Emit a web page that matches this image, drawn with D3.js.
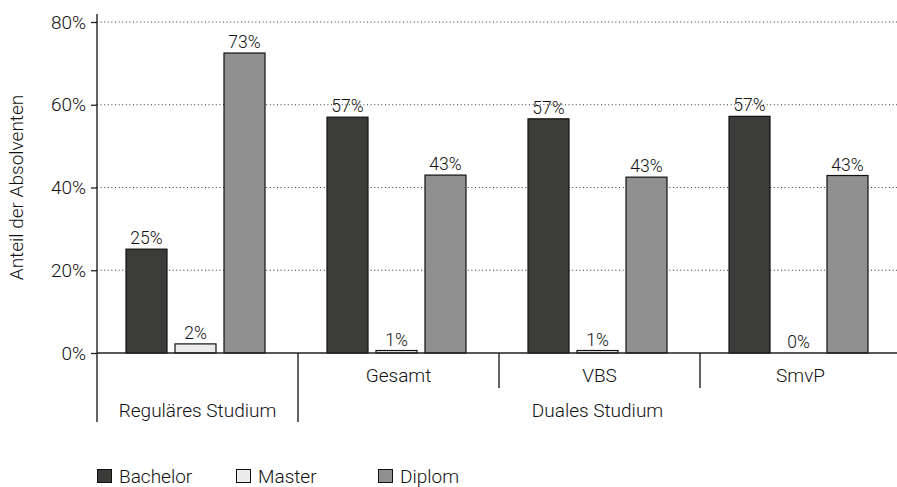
<!DOCTYPE html>
<html>
<head>
<meta charset="utf-8">
<script src="https://cdn.jsdelivr.net/npm/d3@7"></script>
<style>
  html, body { margin: 0; padding: 0; background: #fff; }
  svg { display: block; font-family: Roboto, "Liberation Sans", sans-serif; font-weight: 300; }
</style>
</head>
<body>
<svg id="chart" width="897" height="487"></svg>
<script>
// Shares of graduates by degree type and study form
const groups = ["Reguläres Studium", "Gesamt", "VBS", "SmvP"];
const series = ["Bachelor", "Master", "Diplom"];
const bachelor = [25.1, 57.0, 56.6, 57.2];
const master   = [2.2, 0.6, 0.6, 0.0];
const diplom   = [72.5, 43.0, 42.5, 42.9];
const valueLabels = [
  ["25%", "2%", "73%"],
  ["57%", "1%", "43%"],
  ["57%", "1%", "43%"],
  ["57%", "0%", "43%"]
];
const yTicks = [0, 20, 40, 60, 80];
const colors = { Bachelor: "#3b3b3a", Master: "#ececec", Diplom: "#8f908f" };
const upperGroupLabels = [
  { text: "Reguläres Studium", from: 0, to: 1 },
  { text: "Duales Studium", from: 1, to: 4 }
];

const seriesValues = { Bachelor: bachelor, Master: master, Diplom: diplom };

const svg = d3.select("#chart");
const plotLeft = 97, plotRight = 901, plotTop = 22, zeroY = 353, viewRight = 897;
const textSize = 19;

const y = d3.scaleLinear().domain([0, 80]).range([zeroY, plotTop]);
const x = d3.scaleBand().domain(groups).range([plotLeft, plotRight]).paddingInner(0).paddingOuter(0);
const barsSpan = 139;
const xInner = d3.scaleBand().domain(series)
  .range([(x.bandwidth() - barsSpan) / 2 - 2, (x.bandwidth() + barsSpan) / 2 - 2])
  .paddingInner(8 / 49).paddingOuter(0);

// dotted gridlines
svg.append("g")
  .selectAll("line")
  .data(yTicks.filter(t => t > 0))
  .join("line")
  .attr("x1", plotLeft).attr("x2", viewRight)
  .attr("y1", d => y(d)).attr("y2", d => y(d))
  .attr("stroke", "#333").attr("stroke-width", 1)
  .attr("stroke-dasharray", "1,2.6");

// y axis
const yAxis = svg.append("g")
  .attr("transform", `translate(${plotLeft},0)`)
  .call(d3.axisLeft(y).tickValues(yTicks).tickFormat(d => d + "%").tickSize(6).tickPadding(5));
yAxis.select(".domain").remove();
yAxis.selectAll(".tick line").attr("stroke", "#222").attr("stroke-width", 1.3);
yAxis.selectAll(".tick text")
  .attr("font-size", textSize).attr("font-family", "Roboto, sans-serif").attr("font-weight", 300)
  .attr("fill", "#111");

// bars
const barData = [];
groups.forEach((g, gi) => series.forEach((s, si) => {
  barData.push({ group: g, series: s, value: seriesValues[s][gi], label: valueLabels[gi][si] });
}));

const bars = svg.append("g");
bars.selectAll("rect")
  .data(barData.filter(d => d.value > 0))
  .join("rect")
  .attr("x", d => x(d.group) + xInner(d.series))
  .attr("width", xInner.bandwidth())
  .attr("y", d => y(d.value))
  .attr("height", d => y(0) - y(d.value))
  .attr("fill", d => colors[d.series])
  .attr("stroke", "#111").attr("stroke-width", 1.2);

bars.selectAll("text")
  .data(barData)
  .join("text")
  .attr("x", d => x(d.group) + xInner(d.series) + xInner.bandwidth() / 2)
  .attr("y", d => y(d.value) - 5)
  .attr("text-anchor", "middle")
  .attr("font-size", 17.5)
  .attr("fill", "#111")
  .text(d => d.label);

// axis lines: vertical axis extended below, baseline
const axisG = svg.append("g").attr("stroke", "#222").attr("stroke-width", 1.4);
axisG.append("line").attr("x1", plotLeft).attr("x2", plotLeft).attr("y1", plotTop - 8).attr("y2", 422);
axisG.append("line").attr("x1", plotLeft).attr("x2", viewRight).attr("y1", zeroY).attr("y2", zeroY);

// category separators
const boundaries = [1, 2, 3].map(i => x(groups[i]));
axisG.selectAll("line.sep")
  .data(boundaries)
  .join("line")
  .attr("class", "sep")
  .attr("x1", d => d).attr("x2", d => d)
  .attr("y1", zeroY)
  .attr("y2", (d, i) => i === 0 ? 422 : 388);

// lower category labels
svg.append("g")
  .selectAll("text")
  .data(groups.slice(1))
  .join("text")
  .attr("x", d => x(d) + x.bandwidth() / 2)
  .attr("y", 382)
  .attr("text-anchor", "middle")
  .attr("font-size", textSize).attr("fill", "#111")
  .text(d => d);

// upper group labels
svg.append("g")
  .selectAll("text")
  .data(upperGroupLabels)
  .join("text")
  .attr("x", d => {
    const a = x(groups[d.from]);
    const b = d.to >= groups.length ? viewRight : x(groups[d.to]);
    return (a + b) / 2;
  })
  .attr("y", 417)
  .attr("text-anchor", "middle")
  .attr("font-size", textSize).attr("fill", "#111")
  .text(d => d.text);

// y axis title
svg.append("text")
  .attr("transform", `translate(23,${(plotTop + zeroY) / 2}) rotate(-90)`)
  .attr("text-anchor", "middle")
  .attr("font-size", textSize).attr("fill", "#111")
  .text("Anteil der Absolventen");

// legend
const legend = svg.append("g");
const legendX = [97, 236, 378];
const item = legend.selectAll("g")
  .data(series)
  .join("g")
  .attr("transform", (d, i) => `translate(${legendX[i]},469)`);
item.append("rect")
  .attr("x", 0.5).attr("y", 0.5).attr("width", 14).attr("height", 13)
  .attr("fill", d => colors[d]).attr("stroke", "#111").attr("stroke-width", 1);
item.append("text")
  .attr("x", 22).attr("y", 13.5)
  .attr("font-size", textSize).attr("fill", "#111")
  .text(d => d);
</script>
</body>
</html>
